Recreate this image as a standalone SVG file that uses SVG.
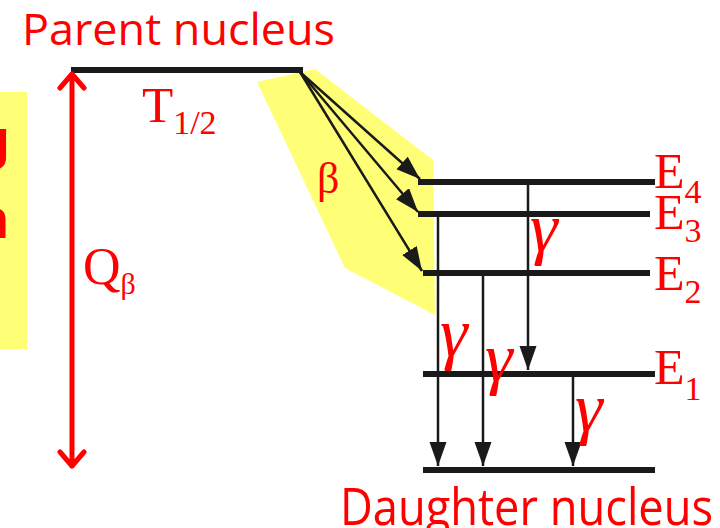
<svg xmlns="http://www.w3.org/2000/svg" width="720" height="528" viewBox="0 0 720 528">
<defs>
<style>
.lvl{stroke:#1a1a1a;stroke-width:6;fill:none}
.g{stroke:#1a1a1a;stroke-width:2.5;fill:none}
.yel{fill:#ffff77;stroke:none}
.sans{font-family:"Open Sans","Liberation Sans",sans-serif;fill:#ff0000}
.ser{font-family:"Liberation Serif","Times New Roman",serif;fill:#ff0000}
.gam{font-family:"Liberation Serif","Times New Roman",serif;font-style:italic;fill:#ff0000}
.q{stroke:#ff0000;stroke-width:5;fill:none;stroke-linecap:round;stroke-linejoin:round}
</style>
<marker id="ah" markerUnits="userSpaceOnUse" markerWidth="26" markerHeight="18" refX="24" refY="8.5" orient="auto">
<path d="M0,0 L24,8.5 L0,17 Z" fill="#1a1a1a"/>
</marker>
</defs>
<rect width="720" height="528" fill="#ffffff"/>

<g id="side-note">
<rect class="yel" x="0" y="92" width="27" height="257"/>
<text x="10" y="158" text-anchor="end" font-family="Liberation Sans, sans-serif" font-weight="bold" font-size="56" fill="#ff0000">g</text>
<text x="9" y="238" text-anchor="end" font-family="Liberation Sans, sans-serif" font-weight="bold" font-size="56" fill="#ff0000">n</text>
</g>

<g id="beta-region">
<polygon class="yel" points="257,82 315,69 433,160 435,315 345,268"/>
</g>

<g id="parent">
<text class="sans" x="22" y="45" font-size="44" textLength="313" lengthAdjust="spacingAndGlyphs">Parent nucleus</text>
<line class="lvl" x1="71" y1="70" x2="303" y2="70"/>
<text class="ser" x="142" y="122" font-size="51">T<tspan font-size="34" y="134">1/2</tspan></text>
</g>

<g id="E4">
<line class="lvl" x1="418" y1="182" x2="655" y2="182"/>
<text class="ser" x="654" y="188" font-size="50">E<tspan font-size="34" y="203">4</tspan></text>
</g>
<g id="E3">
<line class="lvl" x1="418" y1="214" x2="650" y2="214"/>
<text class="ser" x="654" y="229" font-size="50">E<tspan font-size="34" y="242">3</tspan></text>
</g>
<g id="E2">
<line class="lvl" x1="423" y1="273" x2="650" y2="273"/>
<text class="ser" x="654" y="290" font-size="50">E<tspan font-size="34" y="303">2</tspan></text>
</g>
<g id="E1">
<line class="lvl" x1="423" y1="374" x2="655" y2="374"/>
<text class="ser" x="654" y="384" font-size="50">E<tspan font-size="34" y="400">1</tspan></text>
</g>
<g id="daughter">
<line class="lvl" x1="423" y1="470" x2="655" y2="470"/>
<text class="sans" x="340" y="525" font-size="52" textLength="373" lengthAdjust="spacingAndGlyphs">Daughter nucleus</text>
</g>

<g id="connectors">
<path class="q" d="M72,74 V466 M60,88 L72,74 L84,88 M60,452 L72,466 L84,452"/>
<line class="g" x1="300" y1="72" x2="420" y2="179" marker-end="url(#ah)"/>
<line class="g" x1="300" y1="72" x2="418" y2="212" marker-end="url(#ah)"/>
<line class="g" x1="300" y1="72" x2="422" y2="271" marker-end="url(#ah)"/>
<line class="g" x1="438" y1="214" x2="438" y2="466" marker-end="url(#ah)"/>
<line class="g" x1="483" y1="273" x2="483" y2="466" marker-end="url(#ah)"/>
<line class="g" x1="528" y1="182" x2="528" y2="370" marker-end="url(#ah)"/>
<line class="g" x1="573" y1="374" x2="573" y2="466" marker-end="url(#ah)"/>
</g>

<g id="labels">
<text class="ser" x="83" y="284" font-size="52">Q<tspan font-size="30" y="294">β</tspan></text>
<text class="ser" x="317" y="193" font-size="44">β</text>
<text class="gam" x="530" y="251" font-size="70">γ</text>
<text class="gam" x="440" y="356" font-size="70">γ</text>
<text class="gam" x="485" y="381" font-size="70">γ</text>
<text class="gam" x="575" y="431" font-size="70">γ</text>
</g>
</svg>
